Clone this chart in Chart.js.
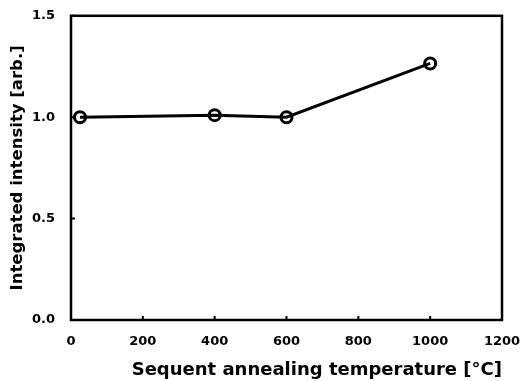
<!DOCTYPE html>
<html>
<head>
<meta charset="utf-8">
<script src="https://cdn.jsdelivr.net/npm/chart.js@4/dist/chart.umd.min.js"></script>
<style>
  html, body { margin: 0; padding: 0; background: #fff; }
  #wrap { width: 528px; height: 381px; }
</style>
</head>
<body>
<div id="wrap"><canvas id="c"></canvas></div>
<script>
const temps = [25, 400, 600, 1000];
const intensity = [1.0, 1.01, 1.0, 1.265];
const xTicks = [0, 200, 400, 600, 800, 1000, 1200];
const yTicks = [0.0, 0.5, 1.0, 1.5];

const font = { family: 'DejaVu Sans, sans-serif', weight: 'bold' };

// frame round the plot and short inward ticks
const framePlugin = {
  id: 'frame',
  afterDraw(chart) {
    const { ctx, chartArea: a, scales } = chart;
    ctx.save();
    ctx.strokeStyle = '#000';
    ctx.lineWidth = 2.5;
    ctx.strokeRect(a.left, a.top, a.right - a.left, a.bottom - a.top);
    ctx.lineWidth = 2;
    ctx.beginPath();
    xTicks.forEach(v => {
      const x = scales.x.getPixelForValue(v);
      ctx.moveTo(x, a.bottom);
      ctx.lineTo(x, a.bottom - 4);
    });
    yTicks.forEach(v => {
      const y = scales.y.getPixelForValue(v);
      ctx.moveTo(a.left, y);
      ctx.lineTo(a.left + 4, y);
    });
    ctx.stroke();
    ctx.restore();
  }
};

new Chart(document.getElementById('c'), {
  type: 'scatter',
  data: {
    datasets: [{
      data: temps.map((t, i) => ({ x: t, y: intensity[i] })),
      showLine: true,
      borderColor: '#000',
      borderWidth: 3,
      pointRadius: 5.5,
      pointBorderWidth: 3,
      pointBackgroundColor: 'rgba(0,0,0,0)',
      pointBorderColor: '#000'
    }]
  },
  options: {
    responsive: true,
    maintainAspectRatio: false,
    animation: false,
    layout: { padding: { left: 0, top: 15, right: 26, bottom: 0 } },
    plugins: { legend: { display: false }, tooltip: { enabled: false } },
    scales: {
      x: {
        type: 'linear',
        min: 0, max: 1200,
        afterBuildTicks(s) { s.ticks = xTicks.map(v => ({ value: v })); },
        afterFit(s) { s.height = 61; },
        grid: { display: false },
        border: { display: false },
        ticks: { color: '#000', font: { ...font, size: 13 }, padding: 6, callback: v => String(v) },
        title: { display: true, align: 'end', text: 'Sequent annealing temperature [°C]', color: '#000', font: { ...font, size: 18 }, padding: { top: 0, bottom: 0 } }
      },
      y: {
        min: 0, max: 1.5,
        afterBuildTicks(s) { s.ticks = yTicks.map(v => ({ value: v })); },
        afterFit(s) { s.width = 71; },
        grid: { display: false },
        border: { display: false },
        ticks: { color: '#000', font: { ...font, size: 13 }, padding: 8, callback: v => v.toFixed(1) },
        title: { display: true, text: 'Integrated intensity [arb.]', color: '#000', font: { ...font, size: 16.5 }, padding: { top: 8, bottom: 0 } }
      }
    }
  },
  plugins: [framePlugin]
});
</script>
</body>
</html>
